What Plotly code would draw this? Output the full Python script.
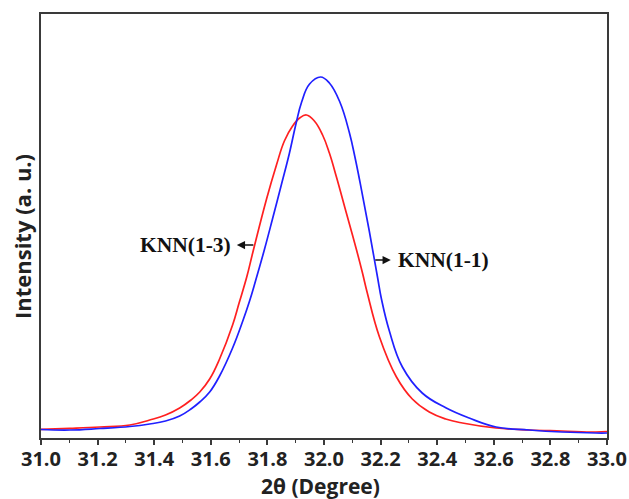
import plotly.graph_objects as go

# XRD peak profiles around 2θ ≈ 32° for two KNN samples
two_theta_13 = [31.000, 31.102, 31.208, 31.314, 31.384, 31.440, 31.490, 31.530, 31.561, 31.596,
                31.631, 31.677, 31.700, 31.727, 31.748, 31.797, 31.832, 31.860, 31.889,
                31.914, 31.938, 31.966, 31.995, 32.019, 32.044, 32.079, 32.115, 32.136,
                32.153, 32.196, 32.256, 32.312, 32.372, 32.430, 32.489, 32.608, 32.725, 32.841,
                32.961, 33.000]
intensity_13 = [9.7, 10.7, 12, 14, 19, 24, 31, 39, 47, 60,
                80, 114, 136, 162, 186, 240, 274, 298, 313,
                321, 324, 318, 304, 286, 262, 226, 189, 166,
                146, 102, 62, 40, 27, 20, 16, 11, 9, 8,
                7, 7.5]

two_theta_11 = [31.000, 31.102, 31.208, 31.314, 31.384, 31.440, 31.490, 31.530, 31.561, 31.596,
                31.631, 31.677, 31.713, 31.737, 31.758, 31.790, 31.818, 31.850, 31.878, 31.900,
                31.921, 31.949, 31.988, 32.019, 32.056, 32.090, 32.110, 32.125, 32.160, 32.189,
                32.203, 32.231, 32.277, 32.347, 32.432, 32.513, 32.608, 32.725, 32.841,
                32.961, 33.000]
intensity_11 = [9.5, 9, 10.5, 12.5, 15, 18, 23, 30, 37, 47,
                63, 91, 118, 138, 158, 190, 220, 255, 286, 314,
                337, 355, 362, 356, 337, 306, 281, 260, 208, 162,
                140, 108, 72, 46, 31, 21, 12, 9, 7,
                6, 6]

x_ticks = [31.0, 31.2, 31.4, 31.6, 31.8, 32.0, 32.2, 32.4, 32.6, 32.8, 33.0]
x_tick_text = ["31.0", "31.2", "31.4", "31.6", "31.8", "32.0", "32.2", "32.4", "32.6", "32.8", "33.0"]

AXIS = "#3a3a3a"
LABEL_COLOR = "#111111"
LINE_STYLE = dict(width=1.7, shape="spline", smoothing=1.2)

fig = go.Figure()
fig.add_trace(go.Scatter(x=two_theta_13, y=intensity_13, mode="lines", name="KNN(1-3)",
                         line=dict(color="#ff2020", **LINE_STYLE)))
fig.add_trace(go.Scatter(x=two_theta_11, y=intensity_11, mode="lines", name="KNN(1-1)",
                         line=dict(color="#2020ff", **LINE_STYLE)))

fig.update_layout(
    width=629, height=499,
    margin=dict(l=41, r=22, t=14, b=61),
    paper_bgcolor="white", plot_bgcolor="white",
    showlegend=False,
    xaxis=dict(range=[31.0, 33.0], tickmode="array", tickvals=x_ticks, ticktext=x_tick_text,
               ticks="outside", ticklen=5, tickwidth=1.5, tickcolor=AXIS,
               minor=dict(dtick=0.1, ticks="outside", ticklen=3, tickwidth=1.2, tickcolor=AXIS),
               showline=True, linecolor=AXIS, linewidth=2, mirror=True,
               showgrid=False, zeroline=False, automargin=False, ticklabelstandoff=-3,
               tickfont=dict(family="Open Sans", size=20, color="#222222", weight="bold")),
    yaxis=dict(range=[1, 425], showticklabels=False, ticks="",
               showline=True, linecolor=AXIS, linewidth=2, mirror=True,
               showgrid=False, zeroline=False, automargin=False),
)

# axis titles
fig.add_annotation(xref="paper", yref="paper", x=0.494, y=0, yanchor="middle", yshift=-48,
                   text="2θ (Degree)", showarrow=False, borderpad=0,
                   font=dict(family="Open Sans", size=21, color="#222222", weight="bold"))
fig.add_annotation(xref="paper", yref="paper", x=0, y=0.474, xanchor="center", xshift=-19,
                   text="Intensity (a. u.)", textangle=-90, showarrow=False,
                   font=dict(family="Open Sans", size=22, color="#222222", weight="bold"))

# sample labels with short pointer arrows
LABEL_FONT = dict(family="Liberation Serif", size=21.5, color=LABEL_COLOR, weight="bold")
fig.add_annotation(x=31.680, y=194, xref="x", yref="y", xanchor="right", yanchor="middle",
                   text="KNN(1-3)", showarrow=False, font=LABEL_FONT)
fig.add_annotation(x=31.692, y=194, xref="x", yref="y", ax=18, ay=0, text="",
                   showarrow=True, arrowhead=2, arrowsize=1.1, arrowwidth=1.5, standoff=0,
                   arrowcolor=LABEL_COLOR)
fig.add_annotation(x=32.253, y=179, xref="x", yref="y", xanchor="left", yanchor="middle",
                   text="KNN(1-1)", showarrow=False, font=LABEL_FONT)
fig.add_annotation(x=32.236, y=179, xref="x", yref="y", ax=-17, ay=0, text="",
                   showarrow=True, arrowhead=2, arrowsize=1.1, arrowwidth=1.5, standoff=0,
                   arrowcolor=LABEL_COLOR)

fig.write_html("out.html")
